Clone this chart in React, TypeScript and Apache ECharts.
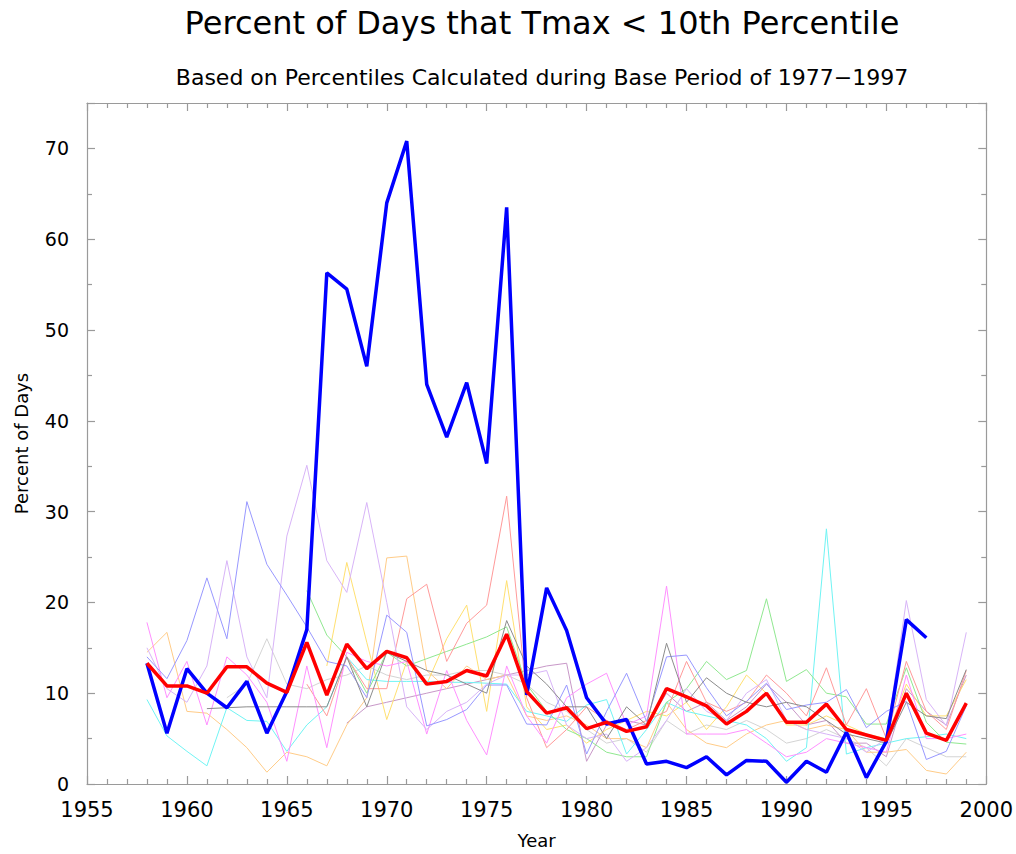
import React, { useEffect, useRef } from "react";
import * as echarts from "echarts";

const titleText = "Percent of Days that Tmax < 10th Percentile";
const subtitleText = "Based on Percentiles Calculated during Base Period of 1977\u22121997";
const xName = "Year";
const yName = "Percent of Days";

const years = [
  1958, 1959, 1960, 1961, 1962, 1963, 1964, 1965, 1966, 1967,
  1968, 1969, 1970, 1971, 1972, 1973, 1974, 1975, 1976, 1977,
  1978, 1979, 1980, 1981, 1982, 1983, 1984, 1985, 1986, 1987,
  1988, 1989, 1990, 1991, 1992, 1993, 1994, 1995, 1996, 1997,
  1998, 1999,
];

// Highlighted station (thick blue)
const stationValues = [
  13.3, 5.6, 12.7, 10.0, 8.4, 11.3, 5.6, 10.2, 17.0, 56.3,
  54.5, 46.0, 64.0, 70.8, 44.0, 38.2, 44.2, 35.3, 63.5, 9.8,
  21.6, 16.9, 9.5, 6.6, 7.1, 2.2, 2.5, 1.8, 3.0, 1.0,
  2.6, 2.5, 0.2, 2.5, 1.3, 5.7, 0.7, 4.7, 18.1, 16.1,
  null, null,
];

// Regional average (thick red)
const averageValues = [
  13.3, 10.8, 10.8, 10.0, 12.9, 12.9, 11.1, 10.1, 15.6, 9.8,
  15.4, 12.7, 14.6, 13.9, 11.0, 11.3, 12.5, 11.9, 16.5, 10.2,
  7.8, 8.4, 6.1, 6.8, 5.8, 6.3, 10.5, 9.6, 8.6, 6.6,
  8.0, 10.0, 6.8, 6.8, 8.8, 6.0, 5.4, 4.8, 10.0, 5.6,
  4.8, 8.9,
];

// Other stations (thin pastel lines)
const periwinkle = [
  14.0, 11.6, 15.8, 22.7, 16.0, 31.1, 24.2, 20.8, 17.3, 13.5,
  13.0, 9.5, 18.6, 16.7, 6.4, 7.1, 8.2, 10.9, 10.9, 6.6,
  6.5, 10.9, 3.3, 8.0, 12.2, 6.9, 14.0, 14.2, 10.6, 7.5,
  9.1, 11.1, 8.2, 8.7, 9.0, 10.4, 6.2, 8.0, 9.1, 2.7,
  3.6, 8.6,
];
const lavender = [
  15.0, 10.5, 9.0, 13.0, 24.6, 14.0, 9.5, 27.3, 35.1, 24.6,
  21.1, 31.0, 20.0, 8.5, 6.0, 8.0, 9.0, 11.0, 12.0, 12.0,
  12.5, 6.5, 5.0, 5.5, 2.5, 4.0, 7.0, 10.5, 8.0, 7.0,
  10.0, 11.5, 7.0, 6.0, 5.5, 5.0, 3.5, 5.0, 20.2, 9.3,
  6.4, 16.7,
];
const magenta = [
  17.8, 9.5, 13.5, 6.5, 14.0, 12.0, 9.0, 2.5, 13.0, 4.0,
  14.5, 13.5, 13.0, 13.5, 5.5, 12.5, 7.0, 3.2, 13.0, 7.5,
  4.5, 9.5, 11.0, 12.2, 6.5, 7.5, 21.8, 5.5, 5.5, 5.5,
  6.0, 4.5, 3.0, 3.5, 5.0, 4.5, 4.0, 3.5, 12.0, 5.0,
  5.0, 5.5,
];
const lightRed = [
  null, null, null, null, null, null, null, null, 11.0, 7.5,
  14.0, 10.5, 10.5, 20.4, 22.0, 13.5, 17.7, 19.7, 31.7, 9.5,
  4.0, 6.0, 8.5, 7.0, 6.0, 7.0, 8.0, 13.5, 9.0, 8.0,
  9.0, 12.0, 10.0, 7.5, 12.8, 6.5, 10.5, 5.0, 13.5, 8.0,
  6.0, 12.5,
];
const lightGreen = [
  null, null, null, null, null, null, null, null, 21.3, 16.4,
  14.0, 10.0, 14.5, 13.0, 13.8, 14.6, 15.4, 16.2, 17.3, 11.0,
  8.0, 6.0, 5.0, 3.5, 3.0, 3.0, 9.0, 10.5, 13.5, 11.5,
  12.5, 20.4, 11.3, 12.6, 10.0, 9.6, 6.6, 6.6, 12.8, 6.8,
  4.6, 4.4,
];
const cyan = [
  9.3, 5.3, 3.6, 2.0, 8.4, 7.0, 6.9, 3.6, 6.5, 8.5,
  14.0, 11.5, 11.3, 11.3, 11.3, 11.2, 11.2, 11.1, 11.0, 8.0,
  7.5, 6.9, 8.7, 9.3, 3.3, 6.0, 9.0, 8.0, 7.5, 7.0,
  6.5, 5.0, 2.5, 4.0, 28.1, 3.3, 4.0, 4.5, 5.0, 5.2,
  5.5, 5.0,
];
const lightOrange = [
  14.5, 16.7, 8.0, 7.8, 6.0, 4.0, 1.3, 3.5, 3.0, 2.0,
  6.5, 9.5, 24.9, 25.1, 12.5, 10.5, 13.0, 11.5, 12.0, 7.5,
  7.0, 7.5, 6.5, 5.0, 5.0, 4.0, 9.0, 6.0, 4.5, 4.0,
  5.5, 6.5, 7.0, 6.0, 6.5, 6.0, 3.5, 3.5, 3.8, 1.5,
  1.1, 3.5,
];
const yellow = [
  null, null, null, null, null, null, null, null, null, 13.0,
  24.4, 15.6, 7.1, 13.5, 11.0, 16.0, 19.7, 8.0, 22.4, 8.5,
  6.0, 6.5, 4.5, 6.0, 7.0, 8.0, 7.5, 9.0, 6.0, 8.5,
  12.0, 10.0, 6.5, 6.5, 7.5, 6.5, 5.5, 5.0, 11.0, 7.5,
  7.5, 11.5,
];
const gray = [
  null, null, null, 8.3, 8.4, 8.5, 8.5, 8.5, 8.5, 8.5,
  14.0, 8.5, 14.5, 13.5, 12.5, 12.0, 11.0, 10.0, 18.0, 13.0,
  11.0, 8.5, 8.5, 5.0, 8.5, 6.5, 15.5, 9.0, 11.7, 10.0,
  9.0, 8.5, 9.0, 8.5, 7.0, 5.5, 5.0, 4.5, 9.0, 7.5,
  7.2, 12.6,
];
const lightGray = [
  null, null, null, null, 9.5, 11.0, 16.0, 11.0, 10.5, 11.5,
  12.0, 13.0, 12.0, 11.5, 12.0, 12.0, 12.5, 12.5, 12.0, 11.0,
  9.0, 8.0, 6.0, 4.5, 5.0, 3.5, 7.0, 5.5, 6.5, 6.0,
  7.0, 6.0, 4.5, 5.0, 6.0, 5.0, 4.0, 2.0, 5.0, 4.0,
  3.0, 3.0,
];
const mauve = [
  null, null, null, null, null, null, null, null, null, null,
  6.7, 8.5, 9.0, 9.5, 10.0, 10.5, 11.0, 11.5, 12.0, 12.5,
  13.0, 13.3, 2.5, 6.5, 7.0, 6.5, 10.0, 8.0, 9.0, 7.0,
  8.5, 11.0, 9.0, 6.5, 7.0, 4.5, 4.5, 3.0, 10.5, 8.0,
  6.5, 12.0,
];

const thinSeries = [
  { name: "s1", values: lightGray, color: "#d4d4d4" },
  { name: "s2", values: mauve, color: "#c898c8" },
  { name: "s3", values: yellow, color: "#ffe070" },
  { name: "s4", values: lightOrange, color: "#ffcc88" },
  { name: "s5", values: cyan, color: "#70f4f4" },
  { name: "s6", values: lightGreen, color: "#90e890" },
  { name: "s7", values: lightRed, color: "#ff9a9a" },
  { name: "s8", values: magenta, color: "#ff90ff" },
  { name: "s9", values: lavender, color: "#d8b4f8" },
  { name: "s10", values: periwinkle, color: "#9898ff" },
  { name: "s11", values: gray, color: "#8c8c8c" },
];

const toPairs = (vals: (number | null)[]) =>
  years.map((y, i) => [y, vals[i] === null ? null : vals[i]]);

const FONT = "DejaVu Sans";
const AXIS_COLOR = "#9a9a9a";

export default function App() {
  const ref = useRef<HTMLDivElement>(null);
  useEffect(() => {
    if (!ref.current) return;
    document.body.style.margin = "0";
    document.body.style.overflow = "hidden";
    const chart = echarts.init(ref.current, null, { renderer: "svg", width: 1016, height: 854 });
    const axisCommon = {
      axisLine: { show: true, onZero: false, lineStyle: { color: AXIS_COLOR, width: 1.2 } },
      axisTick: { show: true, inside: true, length: 8, lineStyle: { color: AXIS_COLOR, width: 1.2 } },
      minorTick: { show: true, length: 5, lineStyle: { color: AXIS_COLOR, width: 1.2 } },
      splitLine: { show: false },
    };
    const series: any[] = thinSeries.map((s) => ({
      name: s.name,
      type: "line",
      data: toPairs(s.values),
      showSymbol: false,
      symbol: "none",
      lineStyle: { color: s.color, width: 1 },
      connectNulls: false,
      z: 2,
    }));
    series.push({
      name: "station",
      type: "line",
      data: toPairs(stationValues),
      showSymbol: false,
      symbol: "none",
      lineStyle: { color: "#0000ff", width: 3.5 },
      z: 3,
    });
    series.push({
      name: "average",
      type: "line",
      data: toPairs(averageValues),
      showSymbol: false,
      symbol: "none",
      lineStyle: { color: "#ff0000", width: 3.5 },
      z: 4,
    });
    chart.setOption({
      animation: false,
      backgroundColor: "#ffffff",
      title: [
        {
          text: titleText,
          left: 537,
          textAlign: "center",
          top: 2,
          textStyle: { fontFamily: FONT, fontSize: 32, fontWeight: "normal", color: "#000" },
        },
        {
          text: subtitleText,
          left: 537,
          textAlign: "center",
          top: 61,
          textStyle: { fontFamily: FONT, fontSize: 22, fontWeight: "normal", color: "#000" },
        },
      ],
      grid: { left: 87, right: 27, top: 103, bottom: 64, containLabel: false },
      xAxis: [
        {
          type: "value",
          min: 1955,
          max: 2000,
          interval: 5,
          minorTick: { ...axisCommon.minorTick, splitNumber: 5 },
          axisLine: axisCommon.axisLine,
          axisTick: axisCommon.axisTick,
          splitLine: axisCommon.splitLine,
          axisLabel: {
            margin: 15,
            fontFamily: FONT,
            fontSize: 21,
            color: "#000",
            formatter: (v: number) => String(v),
          },
          name: xName,
          nameLocation: "middle",
          nameGap: 47,
          nameTextStyle: { fontFamily: FONT, fontSize: 18, color: "#000" },
        },
        {
          type: "value",
          position: "top",
          min: 1955,
          max: 2000,
          interval: 5,
          minorTick: { ...axisCommon.minorTick, splitNumber: 5 },
          axisLine: axisCommon.axisLine,
          axisTick: axisCommon.axisTick,
          splitLine: axisCommon.splitLine,
          axisLabel: { show: false },
        },
      ],
      yAxis: [
        {
          type: "value",
          min: 0,
          max: 75,
          interval: 10,
          minorTick: { ...axisCommon.minorTick, splitNumber: 2 },
          axisLine: axisCommon.axisLine,
          axisTick: axisCommon.axisTick,
          splitLine: axisCommon.splitLine,
          axisLabel: {
            margin: 18,
            fontFamily: FONT,
            fontSize: 19,
            color: "#000",
            showMaxLabel: false,
            formatter: (v: number) => (v > 70 ? "" : String(v)),
          },
          name: yName,
          nameLocation: "middle",
          nameRotate: 90,
          nameGap: 57,
          nameTextStyle: { fontFamily: FONT, fontSize: 18, color: "#000" },
        },
        {
          type: "value",
          position: "right",
          min: 0,
          max: 75,
          interval: 10,
          minorTick: { ...axisCommon.minorTick, splitNumber: 2 },
          axisLine: axisCommon.axisLine,
          axisTick: axisCommon.axisTick,
          splitLine: axisCommon.splitLine,
          axisLabel: { show: false },
        },
      ],
      series,
    });
    return () => chart.dispose();
  }, []);
  return (
    <div
      ref={ref}
      style={{ position: "absolute", left: 0, top: 0, width: 1016, height: 854, background: "#fff" }}
    />
  );
}
